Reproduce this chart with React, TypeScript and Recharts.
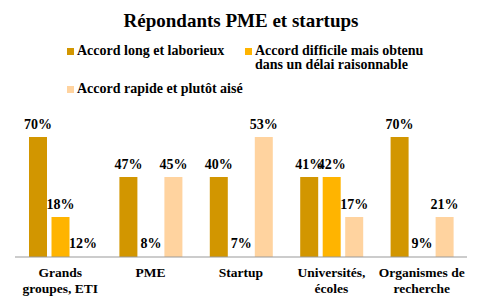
import React from 'react'
import { BarChart, Bar, XAxis, YAxis, LabelList, Rectangle } from 'recharts'

const categories = ['Grands\ngroupes, ETI', 'PME', 'Startup', 'Universités,\nécoles', 'Organismes de\nrecherche']
// bar heights as drawn in the picture (three steps), labels as printed
const longLevels = [3, 2, 2, 2, 3]
const difficileLevels = [1, 0, 0, 2, 0]
const rapideLevels = [0, 2, 3, 1, 1]
const longLabels = ['70%', '47%', '40%', '41%', '70%']
const difficileLabels = ['18%', '8%', '7%', '42%', '9%']
const rapideLabels = ['12%', '45%', '53%', '17%', '21%']

const seriesNames = ['Accord long et laborieux', 'Accord difficile mais obtenu\ndans un délai raisonnable', 'Accord rapide et plutôt aisé']
const colors = ['#D29600', '#FFB400', '#FFD39F']

const data = categories.map((name, i) => ({
  name,
  long: longLevels[i],
  difficile: difficileLevels[i],
  rapide: rapideLevels[i],
  longLabel: longLabels[i],
  difficileLabel: difficileLabels[i],
  rapideLabel: rapideLabels[i],
}))

const font = "'Liberation Serif', 'Times New Roman', serif"

const CategoryTick = (props: any) => {
  const { x, y, payload } = props
  const lines = String(payload.value).split('\n')
  return (
    <text x={x} y={y + 12} textAnchor="middle" fontFamily={font} fontWeight="bold" fontSize={13.5} fill="#000">
      {lines.map((l, i) => (
        <tspan key={i} x={x} dy={i === 0 ? 0 : 16}>{l}</tspan>
      ))}
    </text>
  )
}

const labelStyle = { fontFamily: font, fontWeight: 'bold' as const, fontSize: 14, fill: '#000' }

// zero bars keep a 1px slot so their label is still placed, but draw nothing
const BarShape = (props: any) => {
  if (!props.value) return <g />
  return <Rectangle {...props} />
}

function LegendItem({ color, text, left, top }: { color: string; text: string; left: number; top: number }) {
  const lines = text.split('\n')
  return (
    <div style={{ position: 'absolute', left, top, display: 'flex', alignItems: 'flex-start' }}>
      <div style={{ width: 7, height: 7, background: color, marginTop: 4, marginRight: 3 }} />
      <div style={{ fontFamily: font, fontWeight: 'bold', fontSize: 14, lineHeight: '14px', color: '#000', whiteSpace: 'nowrap' }}>
        {lines.map((l, i) => <div key={i}>{l}</div>)}
      </div>
    </div>
  )
}

export default function App() {
  return (
    <div style={{ position: 'absolute', left: 0, top: 0, width: 482, height: 306, background: '#fff', overflow: 'hidden' }}>
      <div style={{ position: 'absolute', left: 0, top: 10, width: 482, textAlign: 'center', fontFamily: font, fontWeight: 'bold', fontSize: 19, lineHeight: '22px', color: '#000' }}>
        Répondants PME et startups
      </div>
      <LegendItem color={colors[0]} text={seriesNames[0]} left={67} top={44} />
      <LegendItem color={colors[1]} text={seriesNames[1]} left={245} top={44} />
      <LegendItem color={colors[2]} text={seriesNames[2]} left={67} top={82} />
      <div style={{ position: 'absolute', left: 0, top: 0 }}>
        <BarChart width={482} height={306} data={data} margin={{ top: 97, right: 15, bottom: 9, left: 15 }} barGap={4.5}>
          <XAxis dataKey="name" height={40} tick={<CategoryTick />} tickLine={false} axisLine={{ stroke: '#999' }} interval={0} />
          <YAxis hide domain={[0, 4]} />
          <Bar dataKey="long" fill={colors[0]} barSize={18} minPointSize={1} shape={<BarShape />} isAnimationActive={false}>
            <LabelList dataKey="longLabel" position="top" offset={8} style={labelStyle} />
          </Bar>
          <Bar dataKey="difficile" fill={colors[1]} barSize={18} minPointSize={1} shape={<BarShape />} isAnimationActive={false}>
            <LabelList dataKey="difficileLabel" position="top" offset={8} style={labelStyle} />
          </Bar>
          <Bar dataKey="rapide" fill={colors[2]} barSize={18} minPointSize={1} shape={<BarShape />} isAnimationActive={false}>
            <LabelList dataKey="rapideLabel" position="top" offset={8} style={labelStyle} />
          </Bar>
        </BarChart>
      </div>
    </div>
  )
}
